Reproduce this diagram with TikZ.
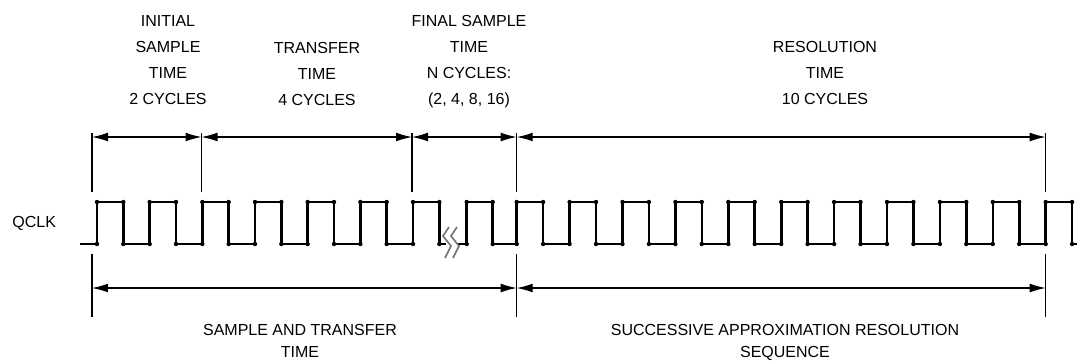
\documentclass[tikz,border=0pt]{standalone}
\usepackage{fontspec}
\setmainfont{Liberation Sans}
\usetikzlibrary{arrows.meta}

\begin{document}
\begin{tikzpicture}[x=0.5pt,y=-0.5pt,
  font=\fontsize{8pt}{13pt}\selectfont, >={Latex[length=8pt,width=4.4pt]},
  lbl/.style={anchor=north,inner sep=0pt,align=center},
  dim/.style={<->,line width=0.55pt},
  tick/.style={line width=0.55pt},
  clk/.style={line width=1.3pt,line join=miter},
  brk/.style={black!55,line width=0.8pt}]
  \useasboundingbox (0,0) rectangle (1077,361);
  \node[lbl] (init) at (168,15.5) {INITIAL\\SAMPLE\\TIME\\2 CYCLES};
  \node[lbl] (xfer) at (317,41.5) {TRANSFER\\TIME\\4 CYCLES};
  \node[lbl] (final) at (469,14.5) {FINAL SAMPLE\\TIME\\N CYCLES:\\(2, 4, 8, 16)};
  \node[lbl] (resol) at (825,41) {RESOLUTION\\TIME\\10 CYCLES};
  \node[anchor=west,inner sep=0pt] (qclk) at (12,223) {QCLK};
  \node[lbl,font=\fontsize{8pt}{10.75pt}\selectfont] (samp) at (300,324.3) {SAMPLE AND TRANSFER\\TIME};
  \node[lbl,font=\fontsize{8pt}{10.75pt}\selectfont] (sar) at (785,324.3) {SUCCESSIVE APPROXIMATION RESOLUTION\\SEQUENCE};
  \foreach \n/\x in {0/92,1/201.5,2/412,3/516.7,4/1045.7} {
    \coordinate (ut\n) at (\x,133);
    \coordinate (ua\n) at (\x,137);
    \coordinate (ub\n) at (\x,192);
    \draw[tick] (ut\n) -- (ub\n);
  }
  \foreach \n/\x in {0/92,1/516.7,2/1045.7} {
    \coordinate (lt\n) at (\x,254);
    \coordinate (la\n) at (\x,288);
    \coordinate (lb\n) at (\x,317);
    \draw[tick] (lt\n) -- (lb\n);
  }
  \draw[dim] (ua0) -- (ua1);
  \draw[dim] (ua1) -- (ua2);
  \draw[dim] (ua2) -- (ua3);
  \draw[dim] (ua3) -- (ua4);
  \draw[dim] (la0) -- (la1);
  \draw[dim] (la1) -- (la2);
  \draw[clk] (80,244)
    foreach \k in {0,...,6} {-- (97+52.67*\k,244) -- (97+52.67*\k,202)
      -- (123.33+52.67*\k,202) -- (123.33+52.67*\k,244)}
    -- (446,244);
  \draw[clk] (458,244) -- (466.7,244) -- (466.7,202) -- (492.7,202) -- (492.7,244)
    foreach \k in {0,...,10} {-- (516.7+52.9*\k,244) -- (516.7+52.9*\k,202)
      -- (543.1+52.9*\k,202) -- (543.1+52.9*\k,244)}
    -- (1077,244);
  \foreach \k in {0,...,6}
    \fill (97+52.67*\k,244) circle (1.1pt) (97+52.67*\k,202) circle (1.1pt)
      (123.33+52.67*\k,202) circle (1.1pt) (123.33+52.67*\k,244) circle (1.1pt);
  \foreach \k in {0,...,10}
    \fill (516.7+52.9*\k,244) circle (1.1pt) (516.7+52.9*\k,202) circle (1.1pt)
      (543.1+52.9*\k,202) circle (1.1pt) (543.1+52.9*\k,244) circle (1.1pt);
  \fill (466.7,244) circle (1.1pt) (466.7,202) circle (1.1pt)
    (492.7,202) circle (1.1pt) (492.7,244) circle (1.1pt);
  \draw[brk] (449,227) -- (443,236) -- (451,246) -- (445,258);
  \draw[brk] (457,227) -- (451,236) -- (459,246) -- (453,258);
\end{tikzpicture}
\end{document}
